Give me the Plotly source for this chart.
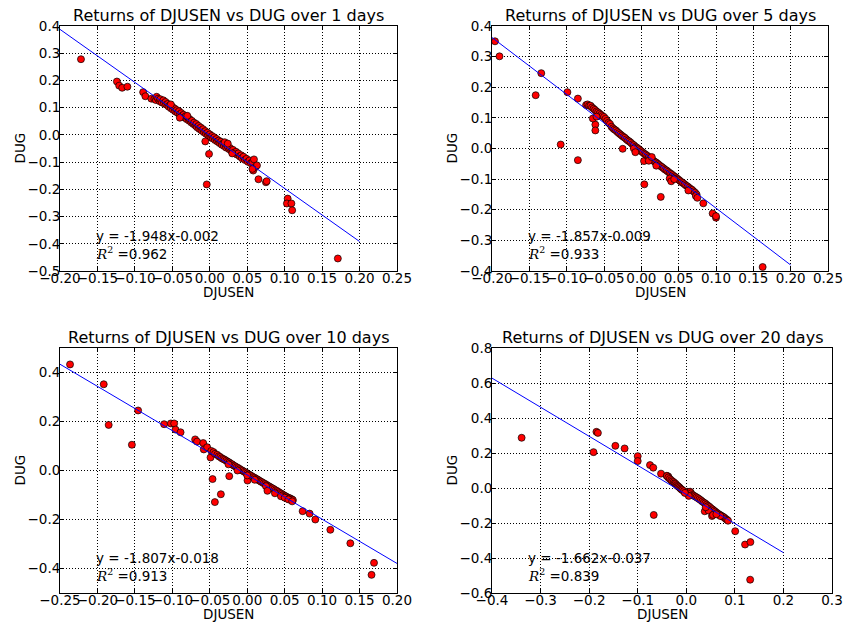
import plotly.graph_objects as go

# ---------------- data ----------------
titles = ["Returns of DJUSEN vs DUG over 1 days",
          "Returns of DJUSEN vs DUG over 5 days",
          "Returns of DJUSEN vs DUG over 10 days",
          "Returns of DJUSEN vs DUG over 20 days"]

slopes = [-1.948, -1.857, -1.807, -1.662]
intercepts = [-0.002, -0.009, -0.018, -0.037]
r2_values = [0.962, 0.933, 0.913, 0.839]
line_x = [[-0.2, 0.2], [-0.2, 0.2], [-0.25, 0.2], [-0.4, 0.2]]

x_1d = [-0.172, -0.124, -0.121, -0.117, -0.110, -0.089, -0.086, -0.078, -0.001, -0.004,
        0.065, 0.075, 0.076, 0.104, 0.103, 0.109, 0.110, 0.171,
        -0.074, -0.072, -0.071, -0.069, -0.067, -0.066, -0.064, -0.062, -0.061, -0.059,
        -0.058, -0.056, -0.055, -0.053, -0.052, -0.050, -0.049, -0.047, -0.046, -0.044,
        -0.043, -0.041, -0.040, -0.038, -0.037, -0.035, -0.034, -0.032, -0.031, -0.030,
        -0.028, -0.027, -0.025, -0.024, -0.022, -0.021, -0.019, -0.018, -0.017, -0.015,
        -0.014, -0.012, -0.011, -0.009, -0.008, -0.006, -0.005, -0.003, -0.002, 0.000,
        0.001, 0.003, 0.004, 0.006, 0.007, 0.009, 0.010, 0.012, 0.013, 0.015,
        0.016, 0.018, 0.019, 0.021, 0.022, 0.024, 0.026, 0.027, 0.029, 0.031,
        0.033, 0.035, 0.036, 0.038, 0.040, 0.042, 0.043, 0.045, 0.047, 0.049,
        0.051, 0.053, 0.055, 0.057,
        -0.052, -0.040, -0.030, -0.006, 0.020, 0.024, 0.030, 0.059, 0.058, 0.061, 0.063, 0.057]
y_1d = [0.278, 0.196, 0.181, 0.173, 0.177, 0.157, 0.142, 0.133, -0.070, -0.182,
        -0.163, -0.174, -0.170, -0.234, -0.252, -0.252, -0.277, -0.454,
        0.132, 0.128, 0.140, 0.133, 0.124, 0.131, 0.119, 0.127, 0.116, 0.121,
        0.111, 0.114, 0.104, 0.109, 0.098, 0.103, 0.092, 0.097, 0.086, 0.091,
        0.081, 0.087, 0.075, 0.080, 0.070, 0.074, 0.064, 0.069, 0.058, 0.066,
        0.053, 0.058, 0.046, 0.052, 0.040, 0.045, 0.034, 0.040, 0.028, 0.033,
        0.022, 0.027, 0.016, 0.021, 0.010, 0.014, 0.004, 0.008, -0.002, 0.002,
        -0.008, -0.004, -0.013, -0.009, -0.019, -0.015, -0.024, -0.021, -0.030, -0.025,
        -0.036, -0.031, -0.041, -0.037, -0.047, -0.043, -0.053, -0.048, -0.059, -0.055,
        -0.066, -0.062, -0.072, -0.068, -0.079, -0.075, -0.086, -0.080, -0.092, -0.088,
        -0.099, -0.094, -0.104, -0.100,
        0.112, 0.063, 0.070, -0.024, -0.027, -0.032, -0.068, -0.090, -0.131, -0.118, -0.112, -0.125]

x_5d = [-0.196, -0.190, -0.134, -0.1415, -0.099, -0.108, -0.085, -0.085, -0.0616, -0.0616,
        -0.025, 0.004, 0.026, 0.0036, 0.083, 0.0955, 0.100, 0.100, 0.1625,
        -0.074, -0.072, -0.070, -0.068, -0.066, -0.064, -0.062, -0.060, -0.058, -0.056,
        -0.054, -0.052, -0.050, -0.048, -0.046, -0.044, -0.042, -0.040, -0.038, -0.036,
        -0.034, -0.032, -0.030, -0.028, -0.026, -0.024, -0.022, -0.020, -0.018, -0.016,
        -0.014, -0.012, -0.010, -0.008, -0.006, -0.004, -0.002, 0.000, 0.002, 0.004,
        0.006, 0.008, 0.010, 0.012, 0.014, 0.016, 0.018, 0.020, 0.022, 0.024,
        0.026, 0.028, 0.030, 0.032, 0.034, 0.036, 0.038, 0.040, 0.042, 0.044,
        0.046, 0.048, 0.050, 0.052, 0.054, 0.056, 0.058, 0.060, 0.062, 0.064,
        0.066, 0.068, 0.070, 0.072, 0.074,
        -0.065, -0.060, -0.010, -0.008, 0.010, 0.014, 0.020, 0.038, 0.040, 0.044, 0.063, 0.073, 0.075]
y_5d = [0.350, 0.301, 0.246, 0.174, 0.184, 0.013, 0.163, -0.038, 0.078, 0.059,
        -0.001, -0.117, -0.158, -0.041, -0.179, -0.212, -0.226, -0.221, -0.387,
        0.142, 0.144, 0.140, 0.140, 0.134, 0.130, 0.126, 0.121, 0.118, 0.114,
        0.110, 0.106, 0.103, 0.097, 0.090, 0.084, 0.080, 0.071, 0.066, 0.062,
        0.059, 0.054, 0.050, 0.046, 0.042, 0.038, 0.035, 0.030, 0.026, 0.023,
        0.019, 0.014, 0.011, 0.006, 0.003, -0.001, -0.005, -0.009, -0.013, -0.017,
        -0.020, -0.024, -0.028, -0.031, -0.035, -0.040, -0.043, -0.046, -0.050, -0.054,
        -0.058, -0.061, -0.065, -0.069, -0.072, -0.076, -0.080, -0.083, -0.087, -0.091,
        -0.094, -0.098, -0.102, -0.106, -0.110, -0.113, -0.117, -0.121, -0.124, -0.128,
        -0.132, -0.135, -0.140, -0.144, -0.150,
        0.098, 0.104, -0.000, -0.012, -0.040, -0.028, -0.056, -0.098, -0.107, -0.100, -0.137, -0.155, -0.161]

x_10d = [-0.2366, -0.1916, -0.185, -0.1457, -0.154, -0.111, -0.102, -0.0976, -0.0958, -0.089,
         -0.0695, -0.067, -0.0588, -0.058, -0.0535, -0.049, -0.0463, -0.0432, -0.0352, -0.024,
         0.0004, 0.074, 0.0833, 0.0909, 0.111, 0.1377, 0.1693, 0.166,
         -0.048, -0.045, -0.043, -0.040, -0.038, -0.036, -0.034, -0.032, -0.030, -0.028,
         -0.026, -0.024, -0.022, -0.020, -0.018, -0.016, -0.014, -0.012, -0.010, -0.008,
         -0.006, -0.004, -0.002, 0.000, 0.002, 0.004, 0.006, 0.008, 0.010, 0.012,
         0.014, 0.016, 0.018, 0.020, 0.022, 0.024, 0.026, 0.028, 0.030, 0.032,
         0.034, 0.036, 0.038, 0.040, 0.042, 0.044, 0.046, 0.048, 0.050, 0.052,
         0.054, 0.056, 0.058, 0.060, 0.061,
         -0.025, -0.013, 0.000, 0.010, 0.025, 0.027, 0.037, 0.045, 0.050, 0.055, 0.060]
y_10d = [0.433, 0.352, 0.186, 0.245, 0.105, 0.189, 0.192, 0.192, 0.167, 0.156,
         0.127, 0.118, 0.112, 0.086, 0.095, 0.053, -0.035, -0.129, -0.097, -0.023,
         -0.041, -0.166, -0.176, -0.200, -0.242, -0.297, -0.377, -0.426,
         0.080, 0.075, 0.068, 0.064, 0.058, 0.055, 0.050, 0.047, 0.044, 0.040,
         0.036, 0.033, 0.028, 0.025, 0.020, 0.017, 0.013, 0.010, 0.006, 0.002,
         -0.001, -0.005, -0.008, -0.012, -0.016, -0.019, -0.023, -0.027, -0.030, -0.034,
         -0.037, -0.041, -0.045, -0.048, -0.052, -0.055, -0.059, -0.063, -0.066, -0.070,
         -0.073, -0.077, -0.081, -0.084, -0.088, -0.092, -0.095, -0.099, -0.103, -0.106,
         -0.110, -0.112, -0.115, -0.118, -0.121,
         0.025, 0.000, -0.020, -0.038, -0.064, -0.083, -0.093, -0.105, -0.111, -0.118, -0.126]

x_20d = [-0.339, -0.185, -0.182, -0.191, -0.146, -0.127, -0.100, -0.100, -0.0747, -0.068,
         -0.067, -0.052, -0.040, -0.037, 0.1007, 0.121, 0.132, 0.1315,
         -0.040, -0.037, -0.034, -0.031, -0.029, -0.026, -0.024, -0.022, -0.020, -0.018,
         -0.016, -0.014, -0.012, -0.010, -0.008, -0.005, 0.003, 0.006, 0.008, 0.010,
         0.012, 0.015, 0.018, 0.021, 0.024, 0.027, 0.030, 0.033, 0.036, 0.039,
         0.042, 0.045, 0.048, 0.051, 0.054, 0.057, 0.060, 0.063, 0.066, 0.069,
         0.072, 0.075, 0.078, 0.081, 0.084, 0.086,
         0.038, 0.046, 0.053, 0.055, 0.070, 0.005, -0.003, 0.040, 0.062]
y_20d = [0.287, 0.321, 0.315, 0.205, 0.241, 0.226, 0.182, 0.154, 0.131, 0.116,
         -0.154, 0.082, 0.070, 0.066, -0.247, -0.323, -0.309, -0.524,
         0.068, 0.060, 0.052, 0.045, 0.038, 0.034, 0.027, 0.024, 0.017, 0.012,
         0.008, 0.003, -0.003, -0.008, -0.012, -0.018, -0.022, -0.025, -0.021, -0.030,
         -0.040, -0.043, -0.048, -0.053, -0.058, -0.064, -0.070, -0.077, -0.083, -0.088,
         -0.095, -0.102, -0.108, -0.116, -0.122, -0.129, -0.135, -0.142, -0.148, -0.153,
         -0.158, -0.163, -0.168, -0.176, -0.182, -0.187,
         -0.133, -0.129, -0.160, -0.154, -0.160, -0.045, -0.028, -0.110, -0.150]

xs = [x_1d, x_5d, x_10d, x_20d]
ys = [y_1d, y_5d, y_10d, y_20d]

x_ranges = [[-0.2, 0.25], [-0.2, 0.25], [-0.25, 0.2], [-0.4, 0.3]]
y_ranges = [[-0.5, 0.4], [-0.4, 0.4], [-0.5, 0.5], [-0.6, 0.8]]
x_ticks = [[-0.20, -0.15, -0.10, -0.05, 0.00, 0.05, 0.10, 0.15, 0.20, 0.25],
           [-0.20, -0.15, -0.10, -0.05, 0.00, 0.05, 0.10, 0.15, 0.20, 0.25],
           [-0.25, -0.20, -0.15, -0.10, -0.05, 0.00, 0.05, 0.10, 0.15, 0.20],
           [-0.4, -0.3, -0.2, -0.1, 0.0, 0.1, 0.2, 0.3]]
x_dec = [2, 2, 2, 1]
y_ticks = [[-0.5, -0.4, -0.3, -0.2, -0.1, 0.0, 0.1, 0.2, 0.3, 0.4],
           [-0.4, -0.3, -0.2, -0.1, 0.0, 0.1, 0.2, 0.3, 0.4],
           [-0.4, -0.2, 0.0, 0.2, 0.4],
           [-0.6, -0.4, -0.2, 0.0, 0.2, 0.4, 0.6, 0.8]]

# ---------------- layout geometry (pixels) ----------------
W, H = 845, 624
boxes = [(60, 397, 26, 271), (492, 828, 26, 271), (60, 397, 348, 593), (492, 832, 348, 593)]

FONT = "DejaVu Sans"


def fmt(v, d):
    s = f"{v:.{d}f}"
    if s.startswith("-"):
        if float(s) == 0:
            s = s[1:]
        else:
            s = "\u2212" + s[1:]
    return s


fig = go.Figure()
annotations = []
layout_axes = {}

for i in range(4):
    n = "" if i == 0 else str(i + 1)
    xa, ya = "x" + n, "y" + n
    fig.add_trace(go.Scatter(
        x=xs[i], y=ys[i], mode="markers", xaxis=xa, yaxis=ya,
        marker=dict(color="#ff0000", size=7, line=dict(color="black", width=0.7)),
        showlegend=False, hoverinfo="skip"))
    lx = line_x[i]
    ly = [slopes[i] * v + intercepts[i] for v in lx]
    fig.add_trace(go.Scatter(
        x=lx, y=ly, mode="lines", xaxis=xa, yaxis=ya,
        line=dict(color="#0000ff", width=1), showlegend=False, hoverinfo="skip"))

    x0, x1, y0, y1 = boxes[i]
    common = dict(showline=True, linecolor="black", linewidth=1, mirror="ticks",
                  ticks="inside", ticklen=4, tickwidth=1, tickcolor="black",
                  showgrid=True, gridcolor="black", gridwidth=0.5, griddash="1px,2px",
                  zeroline=False, tickangle=0, automargin=False,
                  tickfont=dict(family=FONT, size=13.5, color="black"))
    layout_axes["xaxis" + n] = dict(
        domain=[x0 / W, x1 / W], anchor=ya, range=x_ranges[i],
        tickmode="array", tickvals=x_ticks[i], ticklabelstandoff=-5,
        ticktext=[fmt(v, x_dec[i]) for v in x_ticks[i]], **common)
    layout_axes["yaxis" + n] = dict(
        domain=[1 - y1 / H, 1 - y0 / H], anchor=xa, range=y_ranges[i],
        tickmode="array", tickvals=y_ticks[i], ticklabelstandoff=-4,
        ticktext=[fmt(v, 1) for v in y_ticks[i]], **common)

    dx, dy = xa + " domain", ya + " domain"
    annotations.append(dict(text=titles[i], xref=dx, yref=dy, x=0.5, y=1,
                            xanchor="center", yanchor="bottom", yshift=-1, showarrow=False,
                            font=dict(family=FONT, size=16, color="black")))
    annotations.append(dict(text="DJUSEN", xref=dx, yref=dy, x=0.5, y=0,
                            xanchor="center", yanchor="middle", yshift=-21, showarrow=False,
                            font=dict(family=FONT, size=13.5, color="black")))
    annotations.append(dict(text="DUG", xref=dx, yref=dy, x=0, y=0.5, textangle=-90,
                            xanchor="center", yanchor="middle", xshift=-41, showarrow=False,
                            font=dict(family=FONT, size=13.5, color="black")))
    eq = f"y = {slopes[i]:.3f}x{intercepts[i]:.3f}"
    annotations.append(dict(text=eq, xref=dx, yref=dy, x=0.1, y=0.142,
                            xanchor="left", yanchor="middle", showarrow=False,
                            font=dict(family=FONT, size=13.5, color="black")))
    r2 = ("<span style=\"font-family:'DejaVu Serif'\"><i>R</i><sup>2</sup></span>"
          f" =0.{int(round(r2_values[i] * 1000)):03d}")
    annotations.append(dict(text=r2, xref=dx, yref=dy, x=0.1, y=0.073,
                            xanchor="left", yanchor="middle", showarrow=False,
                            font=dict(family=FONT, size=13.5, color="black")))

fig.update_layout(
    template="none",
    width=W, height=H, margin=dict(l=0, r=0, t=0, b=0, autoexpand=False),
    paper_bgcolor="white", plot_bgcolor="white",
    font=dict(family=FONT, size=13, color="black"),
    annotations=annotations, **layout_axes)

fig.write_html("out.html", config={"displayModeBar": False},
               post_script="document.body.style.margin='0';")
